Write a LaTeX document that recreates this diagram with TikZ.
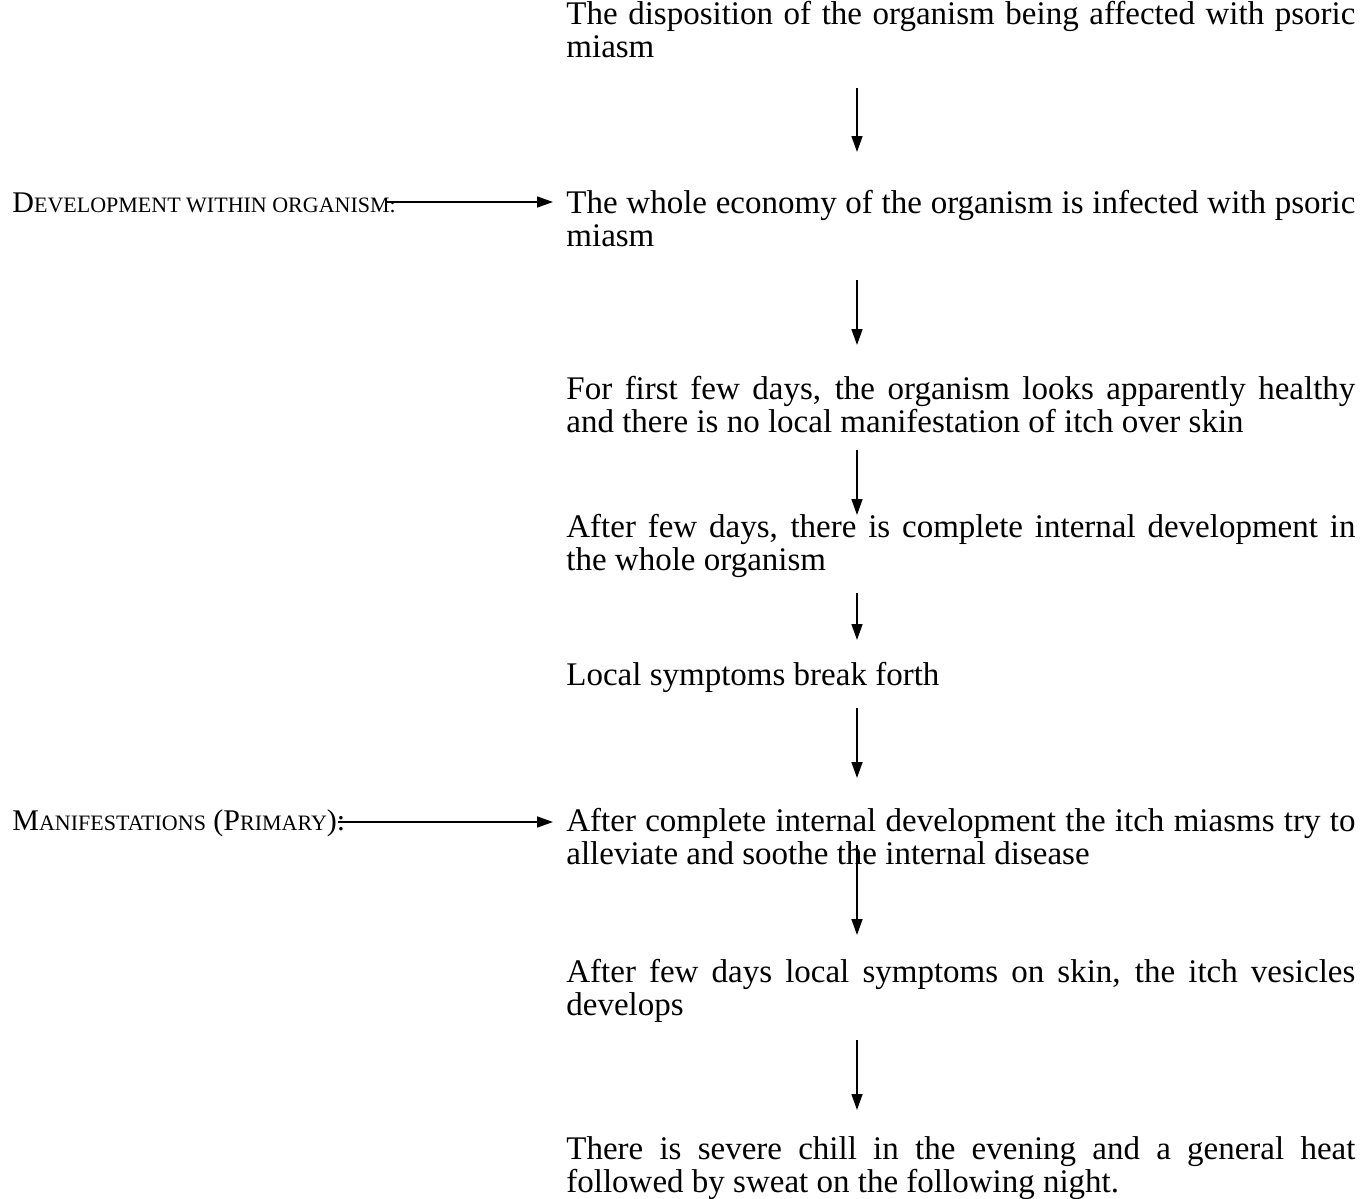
\documentclass[tikz,border=0pt]{standalone}
\usepackage{fontspec}
\setmainfont{Liberation Serif}
\usetikzlibrary{arrows.meta}
\newcommand{\smc}[1]{{\fontsize{11}{13}\selectfont #1}}
\begin{document}
\begin{tikzpicture}[x=0.5pt,y=-0.5pt,
  blk/.style={anchor=base west, inner sep=0pt, text width=394.5pt, align=justify,
    font=\fontsize{16.5}{16.5}\selectfont},
  lbl/.style={anchor=base west, inner sep=0pt, font=\fontsize{15}{16.5}\selectfont},
  arr/.style={line width=0.8pt, -{Triangle[length=8pt,width=5.5pt]}}]
\useasboundingbox (0,0) rectangle (1371,1199);

\node[blk] (b1) at (566,25) {The disposition of the organism being affected with psoric\linebreak miasm};
\node[blk] (b2) at (566,213) {The whole economy of the organism is infected with psoric\linebreak miasm};
\node[blk] (b3) at (566,399) {For first few days, the organism looks apparently healthy\linebreak and there is no local manifestation of itch over skin};
\node[blk] (b4) at (566,537) {After few days, there is complete internal development in\linebreak the whole organism};
\node[blk] (b5) at (566,685) {Local symptoms break forth};
\node[blk] (b6) at (566,831) {After complete internal development the itch miasms try to\linebreak alleviate and soothe the internal disease};
\node[blk] (b7) at (566,982) {After few days local symptoms on skin, the itch vesicles\linebreak develops};
\node[blk] (b8) at (566,1159) {There is severe chill in the evening and a general heat\linebreak followed by sweat on the following night.};

\node[lbl] (l1) at (12,212) {D\smc{EVELOPMENT WITHIN ORGANISM:}};
\node[lbl] (l2) at (12,830) {M\smc{ANIFESTATIONS} (P\smc{RIMARY}):};

\coordinate (a1s) at (857,88);   \coordinate (a1e) at (857,152);
\coordinate (a2s) at (857,280);  \coordinate (a2e) at (857,345);
\coordinate (a3s) at (857,450);  \coordinate (a3e) at (857,515);
\coordinate (a4s) at (857,593);  \coordinate (a4e) at (857,640);
\coordinate (a5s) at (857,708);  \coordinate (a5e) at (857,778);
\coordinate (a6s) at (857,845);  \coordinate (a6e) at (857,935);
\coordinate (a7s) at (857,1040); \coordinate (a7e) at (857,1110);
\coordinate (h1s) at (385,202);  \coordinate (h1e) at (553,202);
\coordinate (h2s) at (338,822);  \coordinate (h2e) at (553,822);

\draw[arr] (a1s) -- (a1e);
\draw[arr] (a2s) -- (a2e);
\draw[arr] (a3s) -- (a3e);
\draw[arr] (a4s) -- (a4e);
\draw[arr] (a5s) -- (a5e);
\draw[arr] (a6s) -- (a6e);
\draw[arr] (a7s) -- (a7e);
\draw[arr] (h1s) -- (h1e);
\draw[arr] (h2s) -- (h2e);
\end{tikzpicture}
\end{document}
